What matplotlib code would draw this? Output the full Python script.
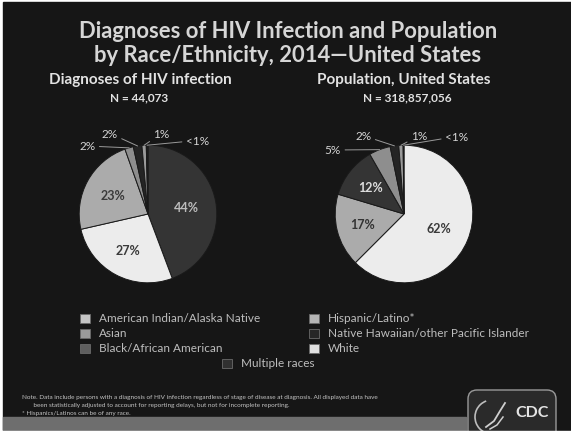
import matplotlib
matplotlib.use("Agg")
import matplotlib.pyplot as plt
from matplotlib.patches import Rectangle, FancyBboxPatch, Arc
import numpy as np

# ---- data -------------------------------------------------------------
diag_groups = ["Black/African American", "White", "Hispanic/Latino*", "Asian",
               "Multiple races", "American Indian/Alaska Native",
               "Native Hawaiian/other Pacific Islander"]
diag_pct = [44, 27, 23, 2, 2, 1, 0.4]
diag_labels = ["44%", "27%", "23%", "2%", "2%", "1%", "<1%"]

pop_groups = ["White", "Hispanic/Latino*", "Black/African American", "Asian",
              "Multiple races", "American Indian/Alaska Native",
              "Native Hawaiian/other Pacific Islander"]
pop_pct = [62, 17, 12, 5, 2, 1, 0.2]
pop_labels = ["62%", "17%", "12%", "5%", "2%", "1%", "<1%"]

legend_left = ["American Indian/Alaska Native", "Asian", "Black/African American"]
legend_right = ["Hispanic/Latino*", "Native Hawaiian/other Pacific Islander", "White"]
legend_bottom = ["Multiple races"]

# ---- styling ------------------------------------------------------------
FONT = "Lato"
BG = "#161616"
colors = {
    "American Indian/Alaska Native": "#9a9a9a",
    "Asian": "#8e8e8e",
    "Black/African American": "#343434",
    "Hispanic/Latino*": "#ababab",
    "Native Hawaiian/other Pacific Islander": "#1c1c1c",
    "White": "#ececec",
    "Multiple races": "#242424",
}
legend_colors = {
    "American Indian/Alaska Native": "#c4c4c4",
    "Asian": "#9a9a9a",
    "Black/African American": "#5e5e5e",
    "Hispanic/Latino*": "#b4b4b4",
    "Native Hawaiian/other Pacific Islander": "#262626",
    "White": "#dedede",
    "Multiple races": "#303030",
}

W, H = 571, 435
fig = plt.figure(figsize=(W / 100, H / 100), dpi=100)
fig.patch.set_facecolor("white")

# full-figure canvas in pixel units (y down)
bg = fig.add_axes([0, 0, 1, 1])
bg.set_xlim(0, W)
bg.set_ylim(H, 0)
bg.axis("off")
bg.add_patch(Rectangle((3, 3), W - 3, 428, color=BG, zorder=0))
bg.add_patch(Rectangle((3, 418), 463, 13, color="#6e6e6e", zorder=1))

# titles
bg.text(288, 31, "Diagnoses of HIV Infection and Population", ha="center", va="center",
        fontsize=15.8, fontweight="bold", color="#d6d6d6", family=FONT)
bg.text(288, 55, "by Race/Ethnicity, 2014\u2014United States", ha="center", va="center",
        fontsize=15.8, fontweight="bold", color="#d6d6d6", family=FONT)
bg.text(140, 80, "Diagnoses of HIV infection", ha="center", va="center",
        fontsize=11, fontweight="bold", color="#e2e2e2", family=FONT)
bg.text(139, 98, "N = 44,073", ha="center", va="center",
        fontsize=8.5, fontweight="bold", color="#e2e2e2", family=FONT)
bg.text(404, 80, "Population, United States", ha="center", va="center",
        fontsize=11, fontweight="bold", color="#e2e2e2", family=FONT)
bg.text(407, 98, "N = 318,857,056", ha="center", va="center",
        fontsize=8.5, fontweight="bold", color="#e2e2e2", family=FONT)


def draw_pie(cx, cy, R, values, groups, labels, inner, outer_pos):
    ax = fig.add_axes([(cx - R) / W, 1 - (cy + R) / H, 2 * R / W, 2 * R / H])
    ax.set_xlim(-1, 1)
    ax.set_ylim(-1, 1)
    ax.axis("off")
    wedges, _ = ax.pie(values, colors=[colors[g] for g in groups], startangle=90,
                       counterclock=False, radius=1,
                       wedgeprops=dict(edgecolor="#1a1a1a", linewidth=0.7))
    for i, (w, lab) in enumerate(zip(wedges, labels)):
        mid = np.deg2rad((w.theta1 + w.theta2) / 2)
        if i in inner:
            r, tc = inner[i]
            ax.text(r * np.cos(mid), r * np.sin(mid), lab, ha="center", va="center",
                    fontsize=9, fontweight="bold", color=tc, family=FONT)
        else:
            px, py = outer_pos[i]
            ax.annotate(lab, xy=(np.cos(mid), np.sin(mid)),
                        xytext=((px - cx) / R, (cy - py) / R),
                        ha="center", va="center", fontsize=8.5, color="#d4d4d4",
                        family=FONT, annotation_clip=False,
                        arrowprops=dict(arrowstyle="-", color="#9a9a9a", lw=0.7,
                                        shrinkA=1, shrinkB=0))
    return ax


draw_pie(148, 215, 86, diag_pct, diag_groups, diag_labels,
         inner={0: (0.56, "#bcbcbc"), 1: (0.6, "#3a3a3a"), 2: (0.58, "#3a3a3a")},
         outer_pos={3: (72, 130), 4: (100, 114), 5: (165, 114), 6: (210, 123)})
draw_pie(404, 215, 86, pop_pct, pop_groups, pop_labels,
         inner={0: (0.55, "#3a3a3a"), 1: (0.62, "#333333"), 2: (0.62, "#dcdcdc")},
         outer_pos={3: (315, 135), 4: (353, 117), 5: (423, 117), 6: (470, 118)})

# legend
def legend_item(x, y, name):
    bg.add_patch(Rectangle((x, y - 4.5), 10, 9, facecolor=legend_colors[name],
                           edgecolor="#6a6a6a", lw=0.6, zorder=3))
    bg.text(x + 19, y, name, ha="left", va="center", fontsize=8.5, color="#bdbdbd",
            family=FONT, zorder=3)

for k, name in enumerate(legend_left):
    legend_item(80, 319 + 15 * k, name)
for k, name in enumerate(legend_right):
    legend_item(309, 319 + 15 * k, name)
legend_item(222, 364, legend_bottom[0])

# footnote
notes = ["Note. Data include persons with a diagnosis of HIV infection regardless of stage of disease at diagnosis. All displayed data have",
         "       been statistically adjusted to account for reporting delays, but not for incomplete reporting.",
         "* Hispanics/Latinos can be of any race."]
for k, line in enumerate(notes):
    bg.text(22, 398 + 7.8 * k, line, ha="left", va="center", fontsize=4.6,
            color="#c4c4c4", family=FONT)

# CDC mark
bg.add_patch(FancyBboxPatch((468, 391), 88, 52, boxstyle="round,pad=0,rounding_size=9",
                            facecolor="#2a2a2a", edgecolor="#9a9a9a", lw=1.0, zorder=2))
bg.add_patch(Arc((492, 418), 34, 34, theta1=70, theta2=250, color="#bdbdbd", lw=1.2, zorder=3))
bg.plot([486, 494, 500, 505], [428, 422, 412, 404], color="#cfcfcf", lw=1.3, zorder=3)
bg.plot([490, 497, 503], [430, 426, 418], color="#cfcfcf", lw=1.1, zorder=3)
bg.text(532, 413, "CDC", ha="center", va="center", fontsize=11.5, fontweight="bold",
        color="#e4e4e4", family=FONT, zorder=3)
bg.add_patch(Rectangle((0, 432), W, 3, color="white", zorder=4))

fig.savefig("out.png", dpi=100, facecolor="white")
